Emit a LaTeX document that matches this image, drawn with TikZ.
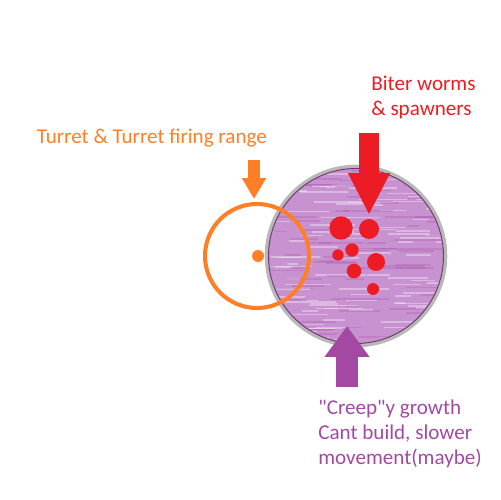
\documentclass[tikz,border=0pt]{standalone}
\usepackage{fontspec}
\setmainfont{Carlito}
\usetikzlibrary{arrows.meta,positioning}

\definecolor{turretorange}{RGB}{255,127,39}
\definecolor{biterred}{RGB}{237,28,36}
\definecolor{creeppurple}{RGB}{163,73,164}
\definecolor{creepfill}{RGB}{200,146,209}

\tikzset{
  label text/.style={inner sep=0pt, anchor=base west, align=left,
    font=\fontsize{12}{14.2}\selectfont}
}

\begin{document}
\begin{tikzpicture}[x=0.02cm,y=-0.02cm]
\useasboundingbox (0,0) rectangle (500,500);

% creep area
\begin{scope}
\clip (356,256) circle (88);
\fill[creepfill] (356,256) circle (88);
\pgfmathsetseed{7}
\foreach \i in {1,...,110}{
  \pgfmathsetmacro\sx{262+rnd*185}
  \pgfmathsetmacro\sy{168+rnd*176}
  \pgfmathsetmacro\sl{8+rnd*45}
  \draw[white, opacity=0.35, line width=0.9pt] (\sx,\sy) -- ++(\sl,0);
}
\foreach \i in {1,...,70}{
  \pgfmathsetmacro\sx{262+rnd*185}
  \pgfmathsetmacro\sy{168+rnd*176}
  \pgfmathsetmacro\sl{10+rnd*50}
  \draw[creeppurple, opacity=0.25, line width=1pt] (\sx,\sy) -- ++(\sl,0);
}
\end{scope}
\draw[gray!70, line width=2.6pt, opacity=0.8] (356,256) circle (89);
\draw[creeppurple!70!black, line width=0.5pt] (356,256) circle (87.5);

% turret
\draw[turretorange, line width=2.3pt] (257,256) circle (52);
\fill[turretorange] (258,256) circle (6);

% biters
\foreach \x/\y/\r in {341/228/11.7, 369/229/10, 352/250/6.7, 338/255/5.7,
                      376/262/9, 354/271/7.3, 373/289/6}
  \fill[biterred] (\x,\y) circle (\r);

% labels (base = last line)
\node[label text, text=turretorange] (turret) at (36.5,143.3) {Turret \& Turret firing range};
\node[label text, text=biterred] (biters) at (371,115) {Biter worms\\\& spawners};
\node[label text, text=creeppurple] (creep) at (318,464.3) {\textquotedbl Creep\textquotedbl y growth\\Cant build, slower\\movement(maybe)};

% arrows
\coordinate (turretTail) at (254,160);
\coordinate (turretTip) at (254,199);
\coordinate (biterTail) at (369,133);
\coordinate (biterTip) at (369,215);
\coordinate (creepTail) at (347,387);
\coordinate (creepTip) at (347,326);

\draw[turretorange, line width=0.25cm, -{Triangle[width=0.46cm,length=0.42cm]}] (turretTail) -- (turretTip);
\draw[biterred, line width=0.4cm, -{Triangle[width=0.78cm,length=0.84cm]}] (biterTail) -- (biterTip);
\draw[creeppurple, line width=0.44cm, -{Triangle[width=0.86cm,length=0.62cm]}] (creepTail) -- (creepTip);
\end{tikzpicture}
\end{document}
